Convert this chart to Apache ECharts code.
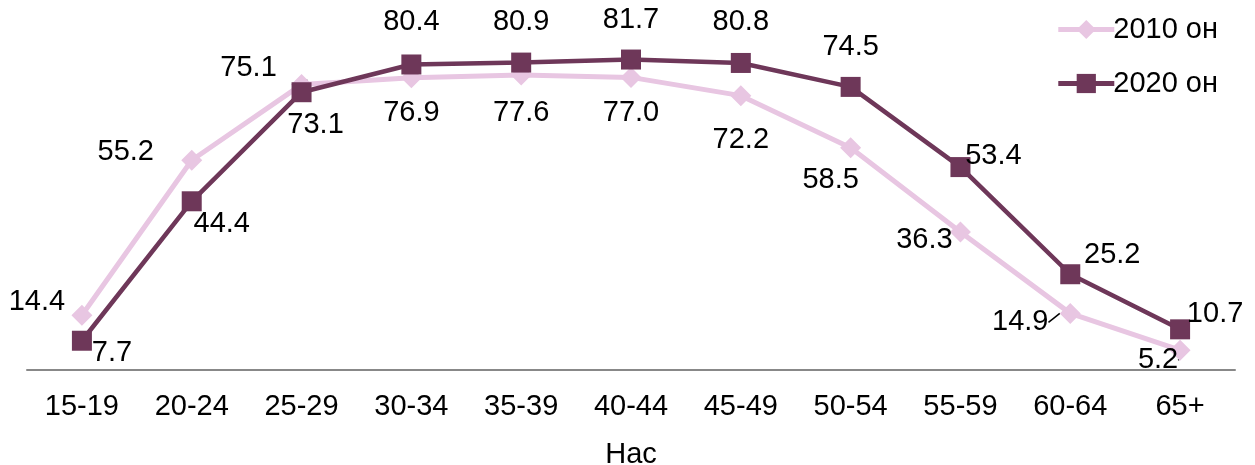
<!DOCTYPE html>
<html><head><meta charset="utf-8">
<script src="https://cdn.jsdelivr.net/npm/echarts@6/dist/echarts.min.js"></script>
<style>html,body{margin:0;padding:0;background:#fff}#c{width:1255px;height:465px}</style>
</head><body><div id="c"></div>
<script>
const categories = ['15-19','20-24','25-29','30-34','35-39','40-44','45-49','50-54','55-59','60-64','65+'];
const values2010 = [14.4, 55.2, 75.1, 76.9, 77.6, 77.0, 72.2, 58.5, 36.3, 14.9, 5.2];
const values2020 = [7.7, 44.4, 73.1, 80.4, 80.9, 81.7, 80.8, 74.5, 53.4, 25.2, 10.7];
const seriesNames = ['2010 он', '2020 он'];
const axisName = 'Нас';

// label offsets (styling, kept separate from data)
const off2010 = [[-45,-13],[-66,-8],[-53,-17],[0,35],[0,38],[0,36],[0,44],[-20,32],[-36,8],[-50,9],[-22,10]];
const off2020 = [[30,12],[30,23],[14,33],[0,-42],[0,-41],[0,-40],[0,-41],[0,-40],[33,-11],[42,-19],[35,-15]];
const leader2010 = [2, 9, 10];

const FONT = 'Liberation Sans, Arial, sans-serif';
const FS = 29;

function build(vals, offs, leaders) {
  return vals.map((v, i) => {
    const item = {
      value: v,
      label: { show: true, position: 'inside', offset: offs[i], formatter: v.toFixed(1) }
    };
    if (leaders && leaders.indexOf(i) >= 0) {
      item.labelLine = { show: true, lineStyle: { color: '#000', width: 1.5 } };
    }
    return item;
  });
}

const chart = echarts.init(document.getElementById('c'), null, {renderer: 'canvas'});
chart.setOption({
  animation: false,
  grid: { left: 27, right: 20, top: 28, bottom: 95, containLabel: false, outerBoundsMode: 'none' },
  legend: {
    orient: 'vertical', right: 32, top: 10, itemGap: 25,
    itemWidth: 56, itemHeight: 24,
    lineStyle: { width: 5 },
    textStyle: { fontFamily: FONT, fontSize: FS, color: '#000', padding: [0,0,0,-6] },
    data: seriesNames
  },
  xAxis: {
    type: 'category', data: categories, boundaryGap: true,
    name: axisName, nameLocation: 'middle', nameGap: 70,
    nameTextStyle: { fontFamily: FONT, fontSize: FS, color: '#000' },
    axisLine: { lineStyle: { color: '#888', width: 2 } },
    axisTick: { show: false },
    axisLabel: { fontFamily: FONT, fontSize: FS, color: '#000', margin: 22 }
  },
  yAxis: { type: 'value', min: 0, max: 90, show: false, splitLine: { show: false } },
  series: [
    {
      name: seriesNames[0], type: 'line', data: build(values2010, off2010, leader2010),
      symbol: 'diamond', symbolSize: 21,
      lineStyle: { color: '#E8C6E2', width: 5 },
      itemStyle: { color: '#E8C6E2' },
      label: { fontFamily: FONT, fontSize: FS, color: '#000' },
      z: 2
    },
    {
      name: seriesNames[1], type: 'line', data: build(values2020, off2020),
      symbol: 'rect', symbolSize: 20,
      lineStyle: { color: '#6E3759', width: 4.5 },
      itemStyle: { color: '#6E3759' },
      label: { fontFamily: FONT, fontSize: FS, color: '#000' },
      z: 3
    }
  ]
});
</script></body></html>
